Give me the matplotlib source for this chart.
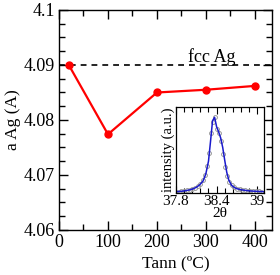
import matplotlib
matplotlib.use('Agg')
from matplotlib import pyplot as plt
from matplotlib.ticker import MultipleLocator

plt.rcParams['font.family'] = ['Liberation Serif', 'DejaVu Serif']
plt.rcParams['mathtext.fontset'] = 'stix'

# main data: lattice parameter vs annealing temperature
tann = [20, 100, 200, 300, 400]
a_ag = [4.0900, 4.0774, 4.0850, 4.0855, 4.0862]
fcc_ag = 4.09

# inset: XRD peak around 38.4 deg (measured points and fit)
theta_pts = [37.80, 37.84, 37.88, 37.92, 37.96, 38.00, 38.04, 38.08, 38.12,
             38.16, 38.20, 38.23, 38.26, 38.29, 38.32, 38.35, 38.38, 38.41,
             38.44, 38.47, 38.50, 38.53, 38.56, 38.59, 38.62, 38.66, 38.70,
             38.74, 38.78, 38.82, 38.86, 38.90, 38.94, 38.98, 39.02, 39.06]
int_pts = [0.014, 0.017, 0.020, 0.024, 0.030, 0.036, 0.046, 0.058, 0.076,
           0.105, 0.15, 0.21, 0.31, 0.47, 0.70, 0.83, 0.88, 0.75,
           0.70, 0.60, 0.45, 0.30, 0.20, 0.13, 0.09, 0.065, 0.050,
           0.042, 0.036, 0.031, 0.027, 0.024, 0.022, 0.020, 0.018, 0.016]
theta_fit = [37.80, 37.85, 37.90, 37.95, 38.00, 38.05, 38.10, 38.15, 38.20,
             38.24, 38.28, 38.31, 38.34, 38.37, 38.40, 38.43, 38.46, 38.49,
             38.52, 38.55, 38.58, 38.62, 38.66, 38.70, 38.75, 38.80, 38.85,
             38.90, 38.95, 39.00, 39.05, 39.10]
int_fit = [0.015, 0.018, 0.022, 0.028, 0.036, 0.048, 0.066, 0.095, 0.14,
           0.22, 0.37, 0.60, 0.84, 0.88, 0.77, 0.71, 0.64, 0.53,
           0.38, 0.24, 0.15, 0.09, 0.065, 0.05, 0.04, 0.033, 0.028,
           0.024, 0.021, 0.019, 0.017, 0.016]

fig = plt.figure(figsize=(2.8, 2.75), dpi=100)
ax = fig.add_axes([59/280, 1 - 230/275, 213/280, 220/275])

ax.axhline(fcc_ag, color='black', ls=(0, (3.5, 3)), lw=1.2)
ax.plot(tann, a_ag, color='red', lw=1.6, marker='o', ms=5, zorder=3)
ax.text(312, 4.0915, 'fcc Ag', fontsize=13, ha='center', va='center')

ax.set_xlim(0, 435)
ax.set_ylim(4.06, 4.1)
ax.xaxis.set_major_locator(MultipleLocator(100))
ax.xaxis.set_minor_locator(MultipleLocator(50))
ax.yaxis.set_major_locator(MultipleLocator(0.01))
ax.yaxis.set_minor_locator(MultipleLocator(0.0025))
ax.set_xticks([0, 100, 200, 300, 400])
ax.set_yticks([4.06, 4.07, 4.08, 4.09, 4.1])
ax.set_yticklabels(['4.06', '4.07', '4.08', '4.09', '4.1'])
ax.tick_params(which='both', direction='in', top=True, right=True,
               labelsize=13, width=1)
ax.tick_params(which='major', length=6.5, pad=3)
ax.tick_params(which='minor', length=4)
for s in ax.spines.values():
    s.set_linewidth(1)

ax.set_xlabel('Tann (ºC)', fontsize=12.5)
ax.xaxis.set_label_coords(0.55, -0.115)
ax.set_ylabel('a Ag (A)', fontsize=12.5)
ax.yaxis.set_label_coords(-0.18, 0.5)

# inset
ins = fig.add_axes([176/280, 1 - 193/275, 88/280, 86/275])
ins.plot(theta_pts, int_pts, ls='none', marker='o', ms=2.8, mfc='none',
         mec='#999999', mew=0.7)
ins.plot(theta_fit, int_fit, color='#1a1acc', lw=1.1)
ins.set_xlim(37.8, 39.1)
ins.set_ylim(0, 1.0)
ins.xaxis.set_major_locator(MultipleLocator(0.6))
ins.xaxis.set_minor_locator(MultipleLocator(0.12))
ins.set_xticks([37.8, 38.4, 39.0])
ins.set_xticklabels(['37.8', '38.4', '39'])
ins.set_yticks([])
ins.tick_params(axis='x', which='both', direction='in', top=True,
                labelsize=11, width=0.8, pad=1.5)
ins.tick_params(axis='x', which='major', length=5)
ins.tick_params(axis='x', which='minor', length=3.5)
for s in ins.spines.values():
    s.set_linewidth(0.9)
ins.set_xlabel('2θ', fontsize=11, labelpad=-1)
ins.set_ylabel('intensity (a.u.)', fontsize=10.5, labelpad=1)

fig.savefig('out.png', dpi=100)
